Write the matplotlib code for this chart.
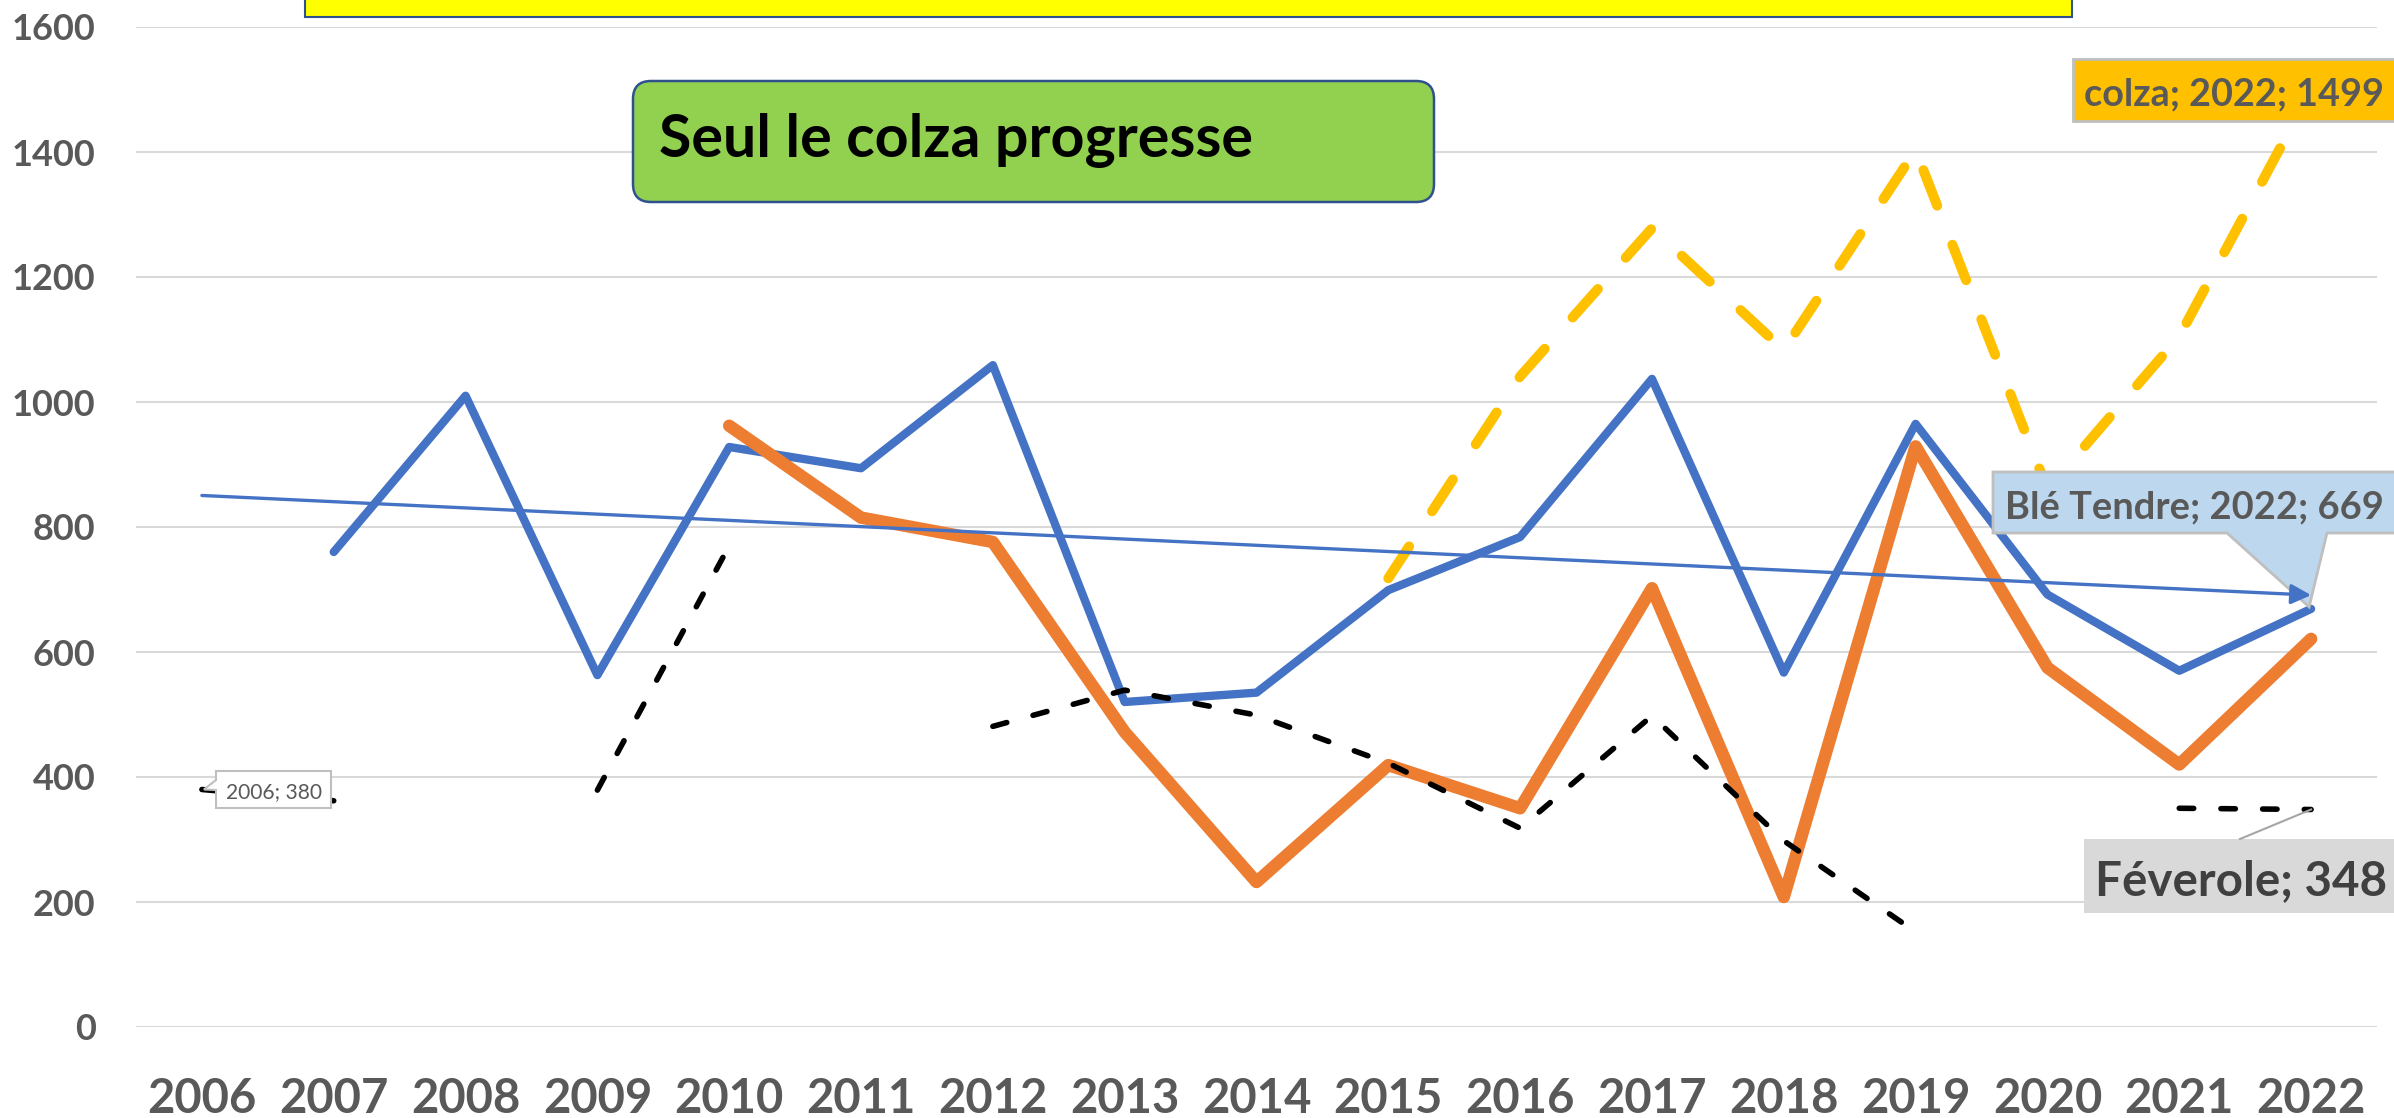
import matplotlib
matplotlib.use('Agg')
import matplotlib.pyplot as plt
import numpy as np
from matplotlib.patches import Rectangle, FancyBboxPatch, Polygon
from matplotlib.lines import Line2D

nan = np.nan
years = list(range(2006, 2023))
year_labels = [str(y) for y in years]
ble_tendre = [nan, 760, 1010, 563, 928, 894, 1059, 520, 535, 699, 784, 1037, 567, 965, 692, 570, 669]
serie_orange = [nan, nan, nan, nan, 962, 815, 776, 472, 232, 419, 350, 702, 208, 929, 575, 420, 621]
colza = [nan, nan, nan, nan, nan, nan, nan, nan, nan, 718, 1041, 1278, 1083, 1403, 860, 1105, 1499]
feverole = [380, 362, nan, 379, 770, nan, 481, 539, 499, 422, 318, 498, 298, 152, nan, 350, 348]
y_ticks = [0, 200, 400, 600, 800, 1000, 1200, 1400, 1600]

FONT = 'Lato'
W, H = 2394, 1118
fig = plt.figure(figsize=(W / 100, H / 100), dpi=100)
ax = fig.add_axes([136 / W, 1 - 1027 / H, (2377 - 136) / W, 1000 / H])
ax.set_xlim(2005.5, 2022.5)
ax.set_ylim(0, 1600)
for s in ax.spines.values():
    s.set_visible(False)
ax.set_yticks(y_ticks)
ax.set_xticks(years)
ax.set_xticklabels(year_labels)
ax.yaxis.grid(True, color='#D9D9D9', lw=1.5, zorder=0)
ax.set_axisbelow(True)
ax.tick_params(axis='both', length=0, colors='#595959')
ax.tick_params(axis='y', pad=29)
ax.tick_params(axis='x', pad=36)
for lab in ax.get_yticklabels():
    lab.set_fontfamily(FONT); lab.set_fontweight('bold'); lab.set_fontsize(26)
for lab in ax.get_xticklabels():
    lab.set_fontfamily(FONT); lab.set_fontweight('bold'); lab.set_fontsize(34)

ax.plot(years, ble_tendre, color='#4472C4', lw=6, solid_joinstyle='round',
        solid_capstyle='round', zorder=3)
ax.plot(years, serie_orange, color='#ED7D31', lw=9, solid_joinstyle='round',
        solid_capstyle='round', zorder=4)
ax.plot(years, colza, color='#FFC000', lw=7.2, dashes=(3.8, 4.2),
        dash_capstyle='round', dash_joinstyle='round', zorder=5)
ax.plot(years, feverole, color='black', lw=4, dashes=(2.6, 4.9),
        dash_capstyle='round', dash_joinstyle='round', zorder=6)

# overlay in pixel coordinates
ov = fig.add_axes([0, 0, 1, 1], zorder=10)
ov.set_xlim(0, W)
ov.set_ylim(H, 0)
ov.axis('off')
ov.patch.set_alpha(0)


def to_px(x, y):
    return ov.transData.inverted().transform(ax.transData.transform((x, y)))


renderer = fig.canvas.get_renderer()


def fit(t, w):
    for _ in range(3):
        bb = t.get_window_extent(renderer)
        t.set_fontsize(t.get_fontsize() * w / bb.width)


# title box (cut off at top)
ov.add_patch(Rectangle((305, -20), 2072 - 305, 37, fc='#FFFF00', ec='#2F528F', lw=1.5, clip_on=False))

# green box
ov.add_patch(FancyBboxPatch((633, 81), 801, 121, boxstyle='round,pad=0,rounding_size=18',
                            fc='#92D050', ec='#2F528F', lw=1.8))
t = ov.text(659, 157, 'Seul le colza progresse', fontfamily=FONT, fontweight='bold',
            fontsize=40, color='black', va='baseline', ha='left')
fit(t, 594)

# 2006 label callout
tx, ty = to_px(years[0], feverole[0])
ov.add_patch(Polygon([(216, 771), (331, 771), (331, 808), (216, 808), (216, 790),
                      (tx + 2, ty), (216, 780)], closed=True, fc='white', ec='#BFBFBF', lw=1.5))
t = ov.text(226, 798, '2006; 380', fontfamily=FONT, fontsize=14, color='#595959',
            va='baseline', ha='left')
fit(t, 96)

# colza label
ov.add_patch(Rectangle((2073, 59), 400, 62, fc='#FFC000', ec='#BFBFBF', lw=2, clip_on=False))
t = ov.text(2084, 105, 'colza; 2022; 1499', fontfamily=FONT, fontweight='bold',
            fontsize=27, color='#595959', va='baseline', ha='left')
fit(t, 300)

# Blé Tendre callout
bx, by = to_px(years[-1], ble_tendre[-1])
ov.add_patch(Polygon([(1993, 472), (2420, 472), (2420, 533), (2327, 533), (bx - 2, by - 2),
                      (2227, 533), (1993, 533)], closed=True, fc='#BDD7EE', ec='#BFBFBF',
                     lw=2, clip_on=False, zorder=2))
t = ov.text(2005, 518, 'Blé Tendre; 2022; 669', fontfamily=FONT, fontweight='bold',
            fontsize=27, color='#595959', va='baseline', ha='left', zorder=3)
fit(t, 378)

# linear trend of Blé Tendre (drawn above the callout, as in the reference)
xv = np.array([x for x, v in zip(years, ble_tendre) if not np.isnan(v)], float)
yv = np.array([v for v in ble_tendre if not np.isnan(v)], float)
a, b = np.polyfit(xv, yv, 1)
p0 = to_px(years[0], a * years[0] + b)
p1 = to_px(years[-1], a * years[-1] + b)
ov.annotate('', xy=tuple(p1), xytext=tuple(p0),
            arrowprops=dict(arrowstyle='-|>', color='#4472C4', lw=2.4,
                            mutation_scale=30, shrinkA=0, shrinkB=0), zorder=4)

# Féverole label
fx, fy = to_px(years[-1], feverole[-1])
ov.add_line(Line2D([2240, fx], [839, fy], color='#A6A6A6', lw=1.5))
ov.add_patch(Rectangle((2084, 839), 400, 74, fc='#D9D9D9', ec='none', clip_on=False))
t = ov.text(2095, 895, 'Féverole; 348', fontfamily=FONT, fontweight='bold',
            fontsize=33, color='#404040', va='baseline', ha='left')
fit(t, 292)

fig.savefig('out.png', dpi=100, facecolor='white')
